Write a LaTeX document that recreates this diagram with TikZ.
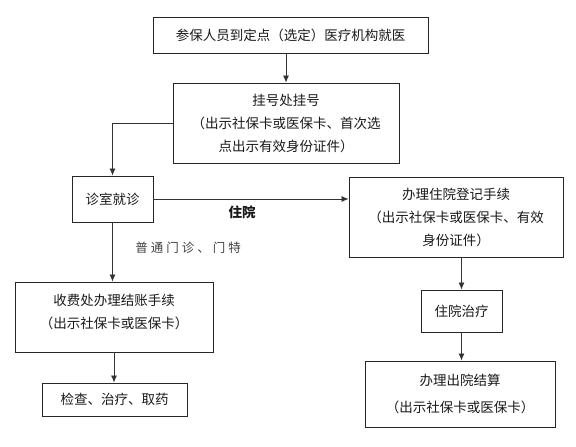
\documentclass[tikz,border=0pt]{standalone}
\usepackage{fontspec}
\setmainfont{Noto Sans CJK SC}
\usetikzlibrary{arrows.meta}
\begin{document}
\begin{tikzpicture}[x=1pt,y=-1pt,
  box/.style={draw=black!85, line width=0.9pt, inner sep=0pt, align=center,
    text=black!90, font=\fontsize{13.5}{23}\selectfont},
  arr/.style={draw=black!80, line width=0.8pt, -{Latex[length=7pt,width=6pt]}},
  lbl/.style={text=black!90, font=\fontsize{13.5}{16}\selectfont, inner sep=0pt}]
\useasboundingbox (0,0) rectangle (576,447);
\node[box, minimum width=275pt, minimum height=36pt] (b1) at (290.5,35) {参保人员到定点（选定）医疗机构就医};
\node[box, minimum width=226pt, minimum height=80pt] (b2) at (286,123) {挂号处挂号\\（出示社保卡或医保卡、首次选\\点出示有效身份证件）};
\node[box, minimum width=81pt, minimum height=46pt] (b3) at (112.5,199) {诊室就诊};
\node[box, minimum width=214pt, minimum height=80pt] (b4) at (456,217) {办理住院登记手续\\（出示社保卡或医保卡、有效\\身份证件）};
\node[box, minimum width=81pt, minimum height=42pt] (b5) at (461.5,311) {住院治疗};
\node[box, minimum width=190pt, minimum height=66pt] (b6) at (460,394) {办理出院结算\\[4pt]（出示社保卡或医保卡）};
\node[box, minimum width=198pt, minimum height=70pt] (b7) at (114,317) {收费处办理结账手续\\（出示社保卡或医保卡）\\[-12pt]\mbox{}};
\node[box, minimum width=145pt, minimum height=33pt] (b8) at (114.5,399.5) {检查、治疗、取药};
\node[lbl, font=\fontsize{13.5}{16}\selectfont\bfseries] (l1) at (242,212) {住院};
\node[lbl, font=\fontsize{12.5}{16}\selectfont, text=black!75] (l2) at (188,248) {普\hspace{3pt}通\hspace{3pt}门\hspace{3pt}诊\hspace{3pt}、\hspace{3pt}门\hspace{3pt}特};
\draw[arr] (b2.north |- b1.south) -- (b2.north);
\draw[arr] (b2.west) -| (b3.north);
\draw[arr] (b3.east) -- (b3.east -| b4.west);
\draw[arr] (b3.south) -- (b3.south |- b7.north);
\draw[arr] (b7.south) -- (b7.south |- b8.north);
\draw[arr] (b5.north |- b4.south) -- (b5.north);
\draw[arr] (b5.south) -- (b5.south |- b6.north);
\end{tikzpicture}
\end{document}
